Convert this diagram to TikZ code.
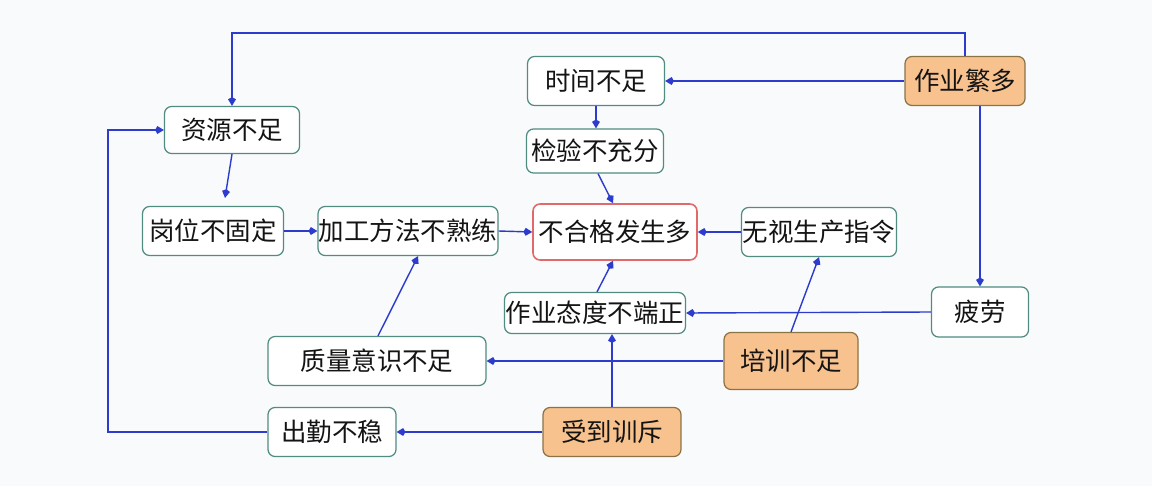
\documentclass[tikz,border=0pt]{standalone}
\usepackage{fontspec}
\newfontfamily\cjk{Noto Sans CJK SC}
\usetikzlibrary{arrows.meta}
\definecolor{edgec}{RGB}{45,60,205}
\definecolor{boxc}{RGB}{80,140,128}
\definecolor{orangef}{RGB}{248,194,142}
\definecolor{oranged}{RGB}{140,115,70}
\definecolor{redc}{RGB}{225,105,105}
\definecolor{bgc}{RGB}{248,250,251}
\begin{document}
\begin{tikzpicture}[x=0.02cm,y=-0.02cm,
  box/.style={draw=boxc, fill=white, rounded corners=4pt, line width=0.7pt,
    font=\cjk\fontsize{14.5}{17}\selectfont, inner sep=0pt, text=black!92},
  hot/.style={box, draw=oranged, fill=orangef},
  core/.style={box, draw=redc, line width=0.9pt},
  arr/.style={draw=edgec, line width=0.8pt, -{Kite[length=5pt,width=4.5pt]}}]
\fill[bgc] (0,0) rectangle (1152,486);
\useasboundingbox (0,0) rectangle (1152,486);

\node[box, minimum width=2.70cm, minimum height=0.94cm] (zy) at (232,130) {资源不足};
\node[box, minimum width=2.74cm, minimum height=0.98cm] (sj) at (596,81) {时间不足};
\node[hot, minimum width=2.40cm, minimum height=0.98cm] (fm) at (965,81) {作业繁多};
\node[box, minimum width=2.74cm, minimum height=0.88cm] (jy) at (595,151) {检验不充分};
\node[box, minimum width=2.82cm, minimum height=0.98cm] (gw) at (213,231) {岗位不固定};
\node[box, minimum width=3.60cm, minimum height=0.98cm] (jg) at (408,231) {加工方法不熟练};
\node[core, minimum width=3.28cm, minimum height=1.12cm] (bh) at (615,232) {不合格发生多};
\node[box, minimum width=3.10cm, minimum height=0.98cm] (ws) at (819,232) {无视生产指令};
\node[box, minimum width=3.62cm, minimum height=0.82cm] (td) at (595,313) {作业态度不端正};
\node[box, minimum width=1.94cm, minimum height=1.00cm] (pl) at (980,312) {疲劳};
\node[box, minimum width=4.36cm, minimum height=0.98cm] (zl) at (377,361) {质量意识不足};
\node[hot, minimum width=2.68cm, minimum height=1.14cm] (px) at (791,361) {培训不足};
\node[box, minimum width=2.56cm, minimum height=0.98cm] (cq) at (332,432) {出勤不稳};
\node[hot, minimum width=2.76cm, minimum height=0.98cm] (xc) at (612,432) {受到训斥};

\coordinate (tl) at (232,33);
\coordinate (bl) at (108,432);

\draw[arr] (fm.north) |- (tl) -- (zy.north);
\draw[arr] (fm.west) -- (sj.east);
\draw[arr] (fm.south -| pl.north) -- (pl.north);
\draw[arr] (sj.south) -- (jy.north -| sj.south);
\draw[arr] ([xshift=0.06cm]jy.south) -- ([xshift=-0.04cm]bh.north);
\draw[arr] (zy.south) -- ([xshift=0.24cm,yshift=0.16cm]gw.north);
\draw[arr] (gw.east) -- (jg.west);
\draw[arr] (jg.east) -- (bh.west);
\draw[arr] (ws.west) -- (bh.west -| bh.east);
\draw[arr] ([xshift=0.04cm]td.north) -- ([xshift=-0.04cm]bh.south);
\draw[arr] (pl.west) -- (td.east);
\draw[arr] (px.north) -- (ws.south);
\draw[arr] (px.west) -- (zl.east);
\draw[arr] ([xshift=0.02cm]zl.north) -- ([xshift=0.2cm]jg.south);
\draw[arr] (xc.north) -- (xc.north |- td.south);
\draw[arr] (xc.west) -- (cq.east);
\draw[arr] (cq.west) -- (bl) |- (zy.west);
\end{tikzpicture}
\end{document}
